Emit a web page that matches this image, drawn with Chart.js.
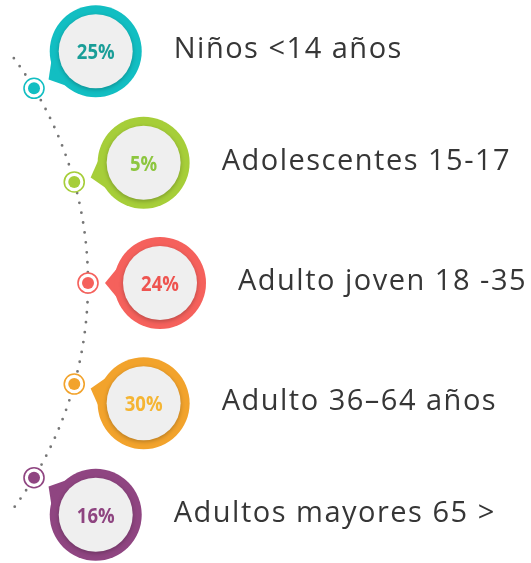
<!DOCTYPE html>
<html>
<head>
<meta charset="utf-8">
<script src="https://cdn.jsdelivr.net/npm/chart.js@4"></script>
<style>
  body { margin: 0; background: #fff; }
  #wrap { width: 531px; height: 563px; }
</style>
</head>
<body>
<div id="wrap"><canvas id="edades" width="531" height="563"></canvas></div>
<script>
const categorias = ["Niños <14 años", "Adolescentes 15-17", "Adulto joven 18 -35", "Adulto 36–64 años", "Adultos mayores 65 >"];
const porcentajes = [25, 5, 24, 30, 16];
const etiquetasPct = porcentajes.map(p => p + "%");

const colores = ["#12BEC2", "#A6CE39", "#F5615C", "#F2A32C", "#8F4581"];
const coloresTexto = ["#1A9E98", "#8DC63F", "#EE5450", "#F5B533", "#8E4480"];

// layout radial: los elementos van sobre un arco
const centroArco = { x: -290, y: 283 };
const radioMarcador = 378;
const radioBurbuja = 450;
const paso = 15.5 * Math.PI / 180;

function enArco(i, r) {
  const a = (i - 2) * paso;
  return { x: centroArco.x + r * Math.cos(a), y: centroArco.y + r * Math.sin(a) };
}

const burbujas = categorias.map((c, i) => enArco(i, radioBurbuja));
const marcadores = categorias.map((c, i) => enArco(i, radioMarcador));

const arcoPunteado = {
  id: "arcoPunteado",
  beforeDatasetsDraw(chart) {
    const { ctx, scales: { x, y } } = chart;
    const cx = x.getPixelForValue(centroArco.x);
    const cy = y.getPixelForValue(centroArco.y);
    const r = x.getPixelForValue(radioMarcador) - x.getPixelForValue(0);
    ctx.save();
    ctx.strokeStyle = "#767676";
    ctx.lineWidth = 2.8;
    ctx.lineCap = "round";
    ctx.setLineDash([0, 10]);
    ctx.beginPath();
    ctx.arc(cx, cy, r, -36.5 * Math.PI / 180, 36.5 * Math.PI / 180);
    ctx.stroke();
    ctx.restore();

    // colitas de las burbujas
    const meta = chart.getDatasetMeta(2);
    meta.data.forEach((p, i) => {
      const a = (i - 2) * paso + Math.PI;
      const punta = { x: p.x + 55 * Math.cos(a), y: p.y + 55 * Math.sin(a) };
      const d = 24 * Math.PI / 180;
      ctx.save();
      ctx.fillStyle = colores[i];
      ctx.beginPath();
      ctx.moveTo(punta.x, punta.y);
      ctx.lineTo(p.x + 44 * Math.cos(a - d), p.y + 44 * Math.sin(a - d));
      ctx.lineTo(p.x + 44 * Math.cos(a + d), p.y + 44 * Math.sin(a + d));
      ctx.closePath();
      ctx.fill();
      ctx.restore();
    });
  },
  afterDatasetsDraw(chart) {
    const { ctx } = chart;
    const meta = chart.getDatasetMeta(2);
    meta.data.forEach((p, i) => {
      ctx.save();
      ctx.shadowColor = "rgba(0,0,0,0.25)";
      ctx.shadowBlur = 4;
      ctx.shadowOffsetY = 1.5;
      ctx.fillStyle = "#EFEFEF";
      ctx.beginPath();
      ctx.arc(p.x, p.y, 37, 0, Math.PI * 2);
      ctx.fill();
      ctx.restore();

      ctx.save();
      ctx.fillStyle = coloresTexto[i];
      ctx.font = "bold 21px 'Open Sans', sans-serif";
      ctx.textAlign = "center";
      ctx.textBaseline = "alphabetic";
      ctx.translate(p.x, p.y + 8);
      ctx.scale(0.88, 1);
      ctx.fillText(etiquetasPct[i], 0, 0);
      ctx.restore();

      ctx.save();
      ctx.fillStyle = "#363636";
      ctx.font = "29px 'Open Sans', sans-serif";
      ctx.letterSpacing = "1.5px";
      ctx.textAlign = "left";
      ctx.textBaseline = "alphabetic";
      ctx.fillText(categorias[i], p.x + 78, p.y + 7);
      ctx.restore();
    });
  }
};

new Chart(document.getElementById("edades"), {
  type: "scatter",
  data: {
    labels: categorias,
    datasets: [
      {
        label: "Punto",
        data: marcadores,
        pointRadius: 6,
        pointHoverRadius: 6,
        borderWidth: 0,
        backgroundColor: colores,
      },
      {
        label: "Marcador",
        data: marcadores,
        pointRadius: 10,
        pointHoverRadius: 10,
        borderWidth: 1.6,
        borderColor: colores,
        backgroundColor: "#ffffff",
      },
      {
        label: "Porcentaje",
        data: burbujas,
        pointRadius: 46,
        pointHoverRadius: 46,
        borderWidth: 0,
        backgroundColor: colores,
      },
    ],
  },
  options: {
    responsive: false,
    animation: false,
    layout: { padding: 0, autoPadding: false },
    plugins: { legend: { display: false }, tooltip: { enabled: false } },
    scales: {
      x: { type: "linear", min: 0, max: 531, display: false },
      y: { type: "linear", min: 0, max: 563, reverse: true, display: false },
    },
  },
  plugins: [arcoPunteado],
});
</script>
</body>
</html>
